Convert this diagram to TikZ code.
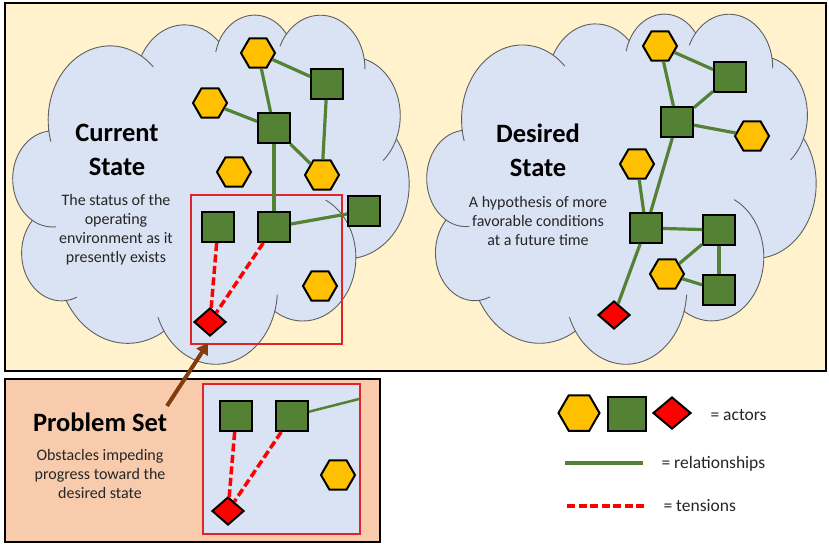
\documentclass[tikz,border=0pt]{standalone}
\usepackage{fontspec}
\setmainfont{Carlito}
\usetikzlibrary{shapes.geometric,arrows.meta}

\definecolor{paleyellow}{HTML}{FFF2CC}
\definecolor{salmon}{HTML}{F8CBAD}
\definecolor{cloudblue}{HTML}{DAE3F3}
\definecolor{cloudline}{HTML}{5F5F5F}
\definecolor{gold}{HTML}{FFC000}
\definecolor{leaf}{HTML}{548235}
\definecolor{alarm}{HTML}{FF0000}
\definecolor{framered}{HTML}{E0252A}
\definecolor{rust}{HTML}{843C0C}
\definecolor{darktext}{HTML}{262626}

% one crease of the cloud: centre, radii, parametric start and end angle
\newcommand{\cloudcrease}[6]{%
  \draw[cloudinner] (#1,#2) ++(#5:#3 and #4)
    arc[start angle=#5, end angle=#6, x radius=#3, y radius=#4];}

% cloud outline in a 432 x 432 box, placed at (#1,#2) with size #3 x #4
\newcommand{\drawcloud}[4]{%
  \begin{scope}[shift={(#1,#2)}, xscale=#3/432, yscale=#4/432]
    \path[cloudfill] (39.00,143.70)
      arc[start angle=-187.746, delta angle=128.111, x radius=67.53, y radius=91.90]
      arc[start angle=-152.04,  delta angle=106.58,  x radius=53.33, y radius=72.67]
      arc[start angle=-153.49,  delta angle=116.16,  x radius=43.65, y radius=59.45]
      arc[start angle=-139.715, delta angle=129.50,  x radius=48.57, y radius=65.95]
      arc[start angle=-74.761,  delta angle=97.969,  x radius=53.33, y radius=72.73]
      arc[start angle=-37.532,  delta angle=119.395, x radius=67.75, y radius=92.20]
      arc[start angle=0.46,     delta angle=121.52,  x radius=57.85, y radius=78.67]
      arc[start angle=16.843,   delta angle=129.385, x radius=67.52, y radius=92.15]
      arc[start angle=58.986,   delta angle=91.201,  x radius=77.20, y radius=105.43]
      arc[start angle=83.306,   delta angle=139.811, x radius=43.60, y radius=59.18]
      arc[start angle=120.351,  delta angle=143.761, x radius=43.45, y radius=59.45]
      -- cycle;
    \cloudcrease{43.07}{204.17}{43.45}{59.45}{84.76}{120.35}
    \cloudcrease{52.95}{295.92}{43.60}{59.18}{67.33}{83.31}
    \cloudcrease{220.93}{341.42}{67.52}{92.15}{146.23}{158.47}
    \cloudcrease{220.93}{341.42}{67.52}{92.15}{3.79}{16.84}
    \cloudcrease{316.19}{301.39}{57.85}{78.67}{-64.59}{0.46}
    \cloudcrease{369.17}{125.92}{53.33}{72.73}{23.21}{49.66}
    \cloudcrease{335.39}{67.44}{48.57}{65.95}{-10.21}{0.82}
    \cloudcrease{335.39}{67.44}{48.57}{65.95}{-155.25}{-139.72}
    \cloudcrease{263.63}{60.84}{43.65}{59.45}{-166.66}{-153.49}
    \cloudcrease{105.91}{131.31}{67.53}{91.90}{-59.64}{-45.74}
    \cloudcrease{105.91}{131.31}{67.53}{91.90}{163.19}{172.25}
  \end{scope}}

\begin{document}
\begin{tikzpicture}[x=1pt, y=-1pt,
  actorhex/.style={regular polygon, regular polygon sides=6, minimum size=34pt,
    inner sep=0pt, fill=gold, draw=black, line width=2pt},
  actorsq/.style={rectangle, minimum width=32pt, minimum height=30pt,
    inner sep=0pt, fill=leaf, draw=black, line width=2pt},
  actordia/.style={diamond, minimum width=32pt, minimum height=28pt,
    inner sep=0pt, fill=alarm, draw=black, line width=2pt},
  relline/.style={draw=leaf, line width=3.2pt},
  tensionline/.style={draw=alarm, line width=3.5pt, dash pattern=on 8pt off 3.5pt},
  cloudfill/.style={fill=cloudblue, draw=cloudline, line width=0.9pt},
  cloudinner/.style={draw=cloudline, line width=0.9pt},
  titletext/.style={font=\fontsize{26.5}{34}\selectfont\bfseries, align=center, text=black},
  desctext/.style={font=\fontsize{16}{19}\selectfont, align=center, text=darktext},
  legendtext/.style={font=\fontsize{17.5}{21}\selectfont, anchor=base west, text=darktext},
  pointer/.style={draw=rust, line width=4pt, -{Triangle[width=13pt,length=11pt]}},
]
\useasboundingbox (0,0) rectangle (829,544);
\fill[white] (0,0) rectangle (829,544);

% upper panel with the two states
\draw[fill=paleyellow, line width=2.5pt] (5,3) rectangle (826,371);
\drawcloud{13}{14}{396}{349}
\drawcloud{427}{13}{389}{350}

% current state
\draw[framered, line width=1.5pt] (191,195) rectangle (342,344);
\node[titletext] (ctitle) at (117,150) {Current\\State};
\node[desctext] (cdesc) at (116,230) {The status of the\\operating\\environment as it\\presently exists};

\node[actorhex] (lh1) at (258,53) {};
\node[actorsq]  (ls1) at (327,84) {};
\node[actorhex] (lh2) at (210,103) {};
\node[actorsq]  (ls2) at (274,128) {};
\node[actorhex] (lh3) at (234,172) {};
\node[actorhex] (lh4) at (322,175) {};
\node[actorsq]  (ls3) at (218,227) {};
\node[actorsq]  (ls4) at (274,227) {};
\node[actorsq]  (ls5) at (364,211) {};
\node[actorhex] (lh5) at (320,286) {};
\node[actordia] (ld1) at (210,322) {};

\draw[relline] (lh1) -- (ls2);
\draw[relline] (lh1) -- (ls1);
\draw[relline] (lh2) -- (ls2);
\draw[relline] (ls2) -- (lh4);
\draw[relline] (ls1) -- (lh4);
\draw[relline] (ls2) -- (ls4);
\draw[relline] (ls4) -- (ls5);
\draw[tensionline] (ls3) -- (ld1);
\draw[tensionline] (ls4) -- (ld1);

% desired state
\node[titletext] (dtitle) at (538,150) {Desired\\State};
\node[desctext] (ddesc) at (538,221) {A hypothesis of more\\favorable conditions\\at a future time};

\node[actorhex] (rh1) at (660,46) {};
\node[actorsq]  (rs1) at (730,77) {};
\node[actorsq]  (rs2) at (677,122) {};
\node[actorhex] (rh2) at (752,136) {};
\node[actorhex] (rh3) at (637,164) {};
\node[actorsq]  (rs3) at (646,228) {};
\node[actorsq]  (rs4) at (719,230) {};
\node[actorhex] (rh4) at (667,274) {};
\node[actorsq]  (rs5) at (719,290) {};
\node[actordia] (rd1) at (614,315) {};

\draw[relline] (rh1) -- (rs1);
\draw[relline] (rh1) -- (rs2);
\draw[relline] (rs2) -- (rs1);
\draw[relline] (rs2) -- (rh2);
\draw[relline] (rs2) -- (rs3);
\draw[relline] (rh3) -- (rs3);
\draw[relline] (rs3) -- (rs4);
\draw[relline] (rs4) -- (rh4);
\draw[relline] (rs4) -- (rs5);
\draw[relline] (rh4) -- (rs5);
\draw[relline] (rs3) -- (rd1);

% problem set panel
\draw[fill=salmon, line width=2pt] (5,379) rectangle (380,542);
\draw[framered, fill=cloudblue, line width=2.5pt] (203,384) rectangle (360,534);
\node[titletext] (ptitle) at (100,422) {Problem Set};
\node[desctext] (pdesc) at (100,474) {Obstacles impeding\\progress toward the\\desired state};

\node[actorsq]  (ps1) at (236,416) {};
\node[actorsq]  (ps2) at (292,416) {};
\node[actorhex] (ph1) at (338,475) {};
\node[actordia] (pd1) at (228,511) {};
\coordinate (pedge) at (359,399);

\draw[relline, line width=2.5pt] (ps2) -- (pedge);
\draw[tensionline] (ps1) -- (pd1);
\draw[tensionline] (ps2) -- (pd1);

% pointer from the problem set to the current state
\coordinate (ptail) at (167,406);
\coordinate (phead) at (208,343);
\draw[pointer] (ptail) -- (phead);

% legend
\node[actorhex, minimum size=41pt] (lgh) at (579,413) {};
\node[actorsq, minimum width=38pt, minimum height=34pt] (lgs) at (627,414) {};
\node[actordia, minimum width=38pt, minimum height=32pt] (lgd) at (672,413) {};
\node[legendtext] (lgactors) at (707,420) {= actors};

\coordinate (lgrel1) at (565,463);
\coordinate (lgrel2) at (643,463);
\draw[relline] (lgrel1) -- (lgrel2);
\node[legendtext] (lgrels) at (658,468) {= relationships};

\coordinate (lgten1) at (567,506);
\coordinate (lgten2) at (645,506);
\draw[tensionline] (lgten1) -- (lgten2);
\node[legendtext] (lgtens) at (660,511) {= tensions};
\end{tikzpicture}
\end{document}
